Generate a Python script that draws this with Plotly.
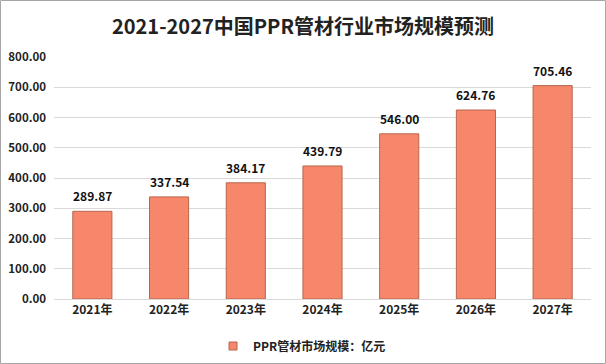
import plotly.graph_objects as go

categories = ["2021年", "2022年", "2023年", "2024年", "2025年", "2026年", "2027年"]
values = [289.87, 337.54, 384.17, 439.79, 546.00, 624.76, 705.46]
tick_vals = [0, 100, 200, 300, 400, 500, 600, 700, 800]
tick_text = ["%.2f" % v for v in tick_vals]
series_name = "PPR管材市场规模：亿元"
title = "2021-2027中国PPR管材行业市场规模预测"

W, H = 606, 364
L, R, T, B = 54, 15, 57, 65
pw, ph = W - L - R, H - T - B

font = "Noto Sans CJK SC, Microsoft YaHei, sans-serif"
bar_color = "#F7876A"

fig = go.Figure()
fig.add_trace(go.Bar(
    x=categories, y=values, name=series_name, showlegend=False,
    marker=dict(color=bar_color, line=dict(color="#B8654E", width=1)),
    width=0.51,
))
# legend entry with small square swatch
fig.add_trace(go.Scatter(
    x=[None], y=[None], mode="markers", name=series_name,
    marker=dict(symbol="square", size=8, color=bar_color, line=dict(color="#B8654E", width=1)),
))

for c, v in zip(categories, values):
    fig.add_annotation(x=c, y=v, text="%.2f" % v, showarrow=False,
                       yanchor="bottom", yshift=5,
                       font=dict(size=12, color="#111111", family=font, weight="bold"))

def px2paper_x(px):
    return (px - L) / pw

def px2paper_y(py):
    return (H - B - py) / ph

fig.update_layout(
    width=W, height=H,
    margin=dict(l=L, r=R, t=T, b=B, autoexpand=False),
    paper_bgcolor="white", plot_bgcolor="white",
    title=dict(text="<b>" + title + "</b>", x=0.5, xanchor="center",
               y=1 - 27 / H, yanchor="middle",
               font=dict(size=20, color="#222222", family=font)),
    showlegend=True,
    legend=dict(orientation="h", x=px2paper_x(213), xanchor="left", y=px2paper_y(346), yanchor="middle",
                font=dict(size=12, color="#222222", family=font, weight="bold"),
                itemwidth=30, itemsizing="trace"),
    xaxis=dict(showgrid=False, showline=True, linecolor="#D9D9D9", ticks="", automargin=False,
               tickfont=dict(size=12, color="#222222", family=font, weight="bold")),
    yaxis=dict(range=[0, 800], tickvals=tick_vals, ticktext=tick_text, automargin=False,
               showgrid=True, gridcolor="#D9D9D9", zeroline=False, showline=False,
               ticklabelstandoff=7,
               tickfont=dict(size=11.5, color="#222222", family=font, weight="bold"), ticklen=0),
    bargap=0.49,
)

fig.add_shape(type="rect", xref="paper", yref="paper",
              x0=px2paper_x(0.5), x1=px2paper_x(W - 0.5),
              y0=px2paper_y(H - 0.5), y1=px2paper_y(0.5),
              line=dict(color="#A6A6A6", width=1), layer="below")

fig.write_html("out.html", config={"displayModeBar": False},
               post_script="document.body.style.margin='0';document.body.style.overflow='hidden';")
